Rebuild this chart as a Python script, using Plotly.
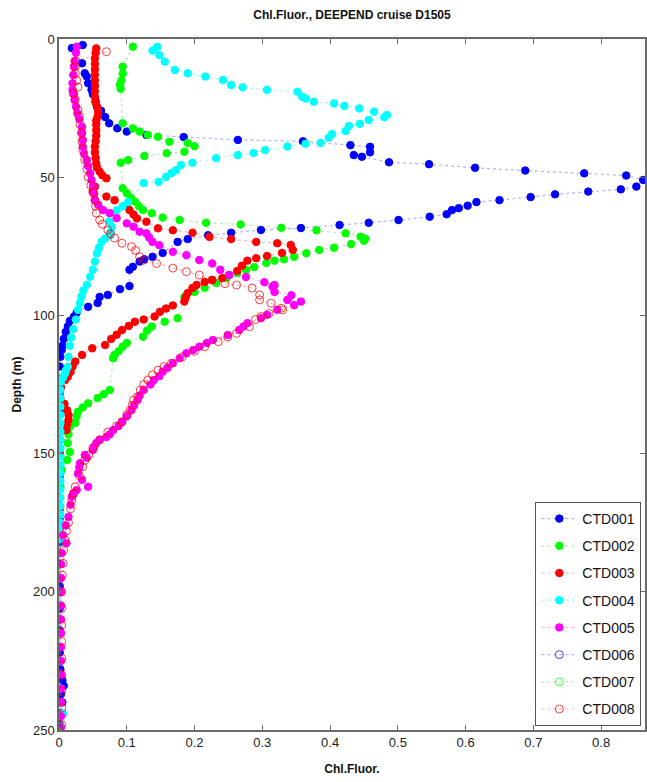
import plotly.graph_objects as go

# ---------------------------------------------------------------
# Chlorophyll fluorescence profiles, DEEPEND cruise D1505
# depth in metres, fluorescence in instrument units
# ---------------------------------------------------------------

ctd001_depth = [2.2, 3.3, 8.8, 12.4, 13.6, 16.0, 18.4, 20.0, 22.5, 24.5, 26.0, 28.2, 30.5, 32.3, 33.5,
                34.7, 35.5, 36.5, 37.0, 38.4, 39.0, 41.0, 42.0, 42.6, 44.6, 45.3, 46.6, 47.6, 48.6,
                49.4, 51.0, 53.4, 54.4, 55.2, 56.2, 57.2, 58.3, 59.0, 60.3, 61.2, 61.9, 63.4, 64.3,
                65.5, 66.5, 67.3, 68.4, 69.1, 70.1, 71.0, 72.4, 73.4, 77.4, 78.8, 79.7, 80.5, 82.4,
                83.5, 89.4, 90.5, 92.6, 93.3, 95.5, 96.9, 99.0, 100.5, 102.0, 104.0, 106.0, 108.5,
                111.0, 112.5, 115.0, 118.5, 123.0, 128.0, 135.0, 142.0, 150.0, 158.0, 166.0, 174.0,
                182.0, 190.0, 198.0, 206.0, 214.0, 222.0, 228.0, 232.0, 234.0, 237.0, 240.0, 244.0,
                248.0]
ctd001_chl = [0.035, 0.019, 0.034, 0.038, 0.041, 0.043, 0.048, 0.050, 0.054, 0.056, 0.062, 0.068, 0.074,
              0.086, 0.100, 0.129, 0.184, 0.264, 0.360, 0.430, 0.459, 0.459, 0.435, 0.447, 0.487,
              0.546, 0.614, 0.688, 0.775, 0.837, 0.862, 0.852, 0.829, 0.781, 0.732, 0.696, 0.650,
              0.616, 0.603, 0.590, 0.580, 0.572, 0.547, 0.501, 0.457, 0.414, 0.357, 0.298, 0.254,
              0.220, 0.190, 0.175, 0.153, 0.138, 0.126, 0.119, 0.109, 0.104, 0.104, 0.090, 0.072,
              0.060, 0.057, 0.043, 0.026, 0.022, 0.016, 0.013, 0.010, 0.007, 0.005, 0.004, 0.002,
              0.001, 0.000, 0.001, 0.001, 0.001, 0.001, 0.001, 0.001, 0.001, 0.001, 0.001, 0.001,
              0.001, 0.001, 0.001, 0.002, 0.005, 0.007, 0.003, 0.005, 0.002, 0.001]

ctd002_depth = [2.8, 10.0, 12.5, 15.0, 16.5, 18.0, 30.5, 32.3, 33.5, 34.7, 35.4, 37.2, 37.6, 38.8,
                40.8, 41.3, 42.3, 43.8, 44.8, 54.0, 55.8, 57.5, 58.8, 60.5, 61.9, 63.0, 64.6, 65.5,
                66.5, 67.1, 68.3, 69.2, 70.3, 71.5, 72.2, 73.0, 74.2, 75.5, 76.3, 77.5, 78.8, 79.7,
                80.2, 81.0, 82.5, 83.6, 84.7, 86.5, 88.3, 90.0, 91.5, 92.6, 93.3, 101.0, 102.3,
                104.0, 105.5, 107.7, 110.0, 111.3, 113.0, 114.3, 115.5, 127.0, 128.5, 129.9, 131.8,
                133.3, 134.9, 136.5, 138.9, 140.3, 143.0, 146.2, 149.4, 152.3, 156.0, 162.0, 170.0,
                180.0, 190.0, 200.0, 210.0, 220.0, 230.0, 240.0, 249.0]
ctd002_chl = [0.109, 0.094, 0.094, 0.092, 0.090, 0.091, 0.094, 0.109, 0.119, 0.131, 0.146, 0.163,
              0.190, 0.200, 0.185, 0.159, 0.126, 0.102, 0.091, 0.094, 0.100, 0.106, 0.112, 0.118,
              0.124, 0.137, 0.153, 0.178, 0.217, 0.268, 0.328, 0.380, 0.423, 0.445, 0.452, 0.450,
              0.431, 0.406, 0.384, 0.365, 0.347, 0.332, 0.318, 0.306, 0.288, 0.276, 0.263, 0.247,
              0.232, 0.215, 0.200, 0.188, 0.185, 0.175, 0.156, 0.137, 0.130, 0.124, 0.100, 0.094,
              0.088, 0.082, 0.080, 0.075, 0.066, 0.057, 0.043, 0.035, 0.028, 0.026, 0.024, 0.016,
              0.014, 0.013, 0.016, 0.012, 0.004, 0.002, 0.001, 0.001, 0.001, 0.001, 0.001, 0.001,
              0.001, 0.001, 0.001]

ctd003_depth = [3.4, 5.0, 7.0, 9.0, 11.0, 13.0, 15.0, 17.0, 19.0, 21.0, 23.0, 25.0, 26.5, 28.0,
                29.5, 31.0, 33.0, 35.0, 37.0, 39.0, 41.0, 43.0, 45.0, 46.5, 48.0, 49.3, 50.4, 53.4,
                55.2, 57.0, 58.3, 60.0, 61.9, 63.5, 64.9, 66.1, 68.5, 69.2, 70.1, 71.6, 72.4, 73.4,
                73.9, 74.5, 76.3, 77.4, 78.5, 79.3, 80.2, 82.0, 83.9, 85.4, 86.5, 87.2, 87.9, 89.0,
                90.1, 91.9, 93.5, 95.0, 96.4, 97.5, 98.7, 100.4, 101.5, 102.3, 103.8, 105.3, 107.0,
                108.5, 110.7, 111.9, 114.3, 116.7, 118.5, 120.5, 122.2, 123.4, 126.0, 130.0, 132.0,
                134.3, 136.0, 137.8, 139.5, 141.5, 145.0, 150.0, 160.0, 170.0, 180.0, 190.0, 200.0,
                210.0, 220.0, 230.0, 240.0, 249.0]
ctd003_chl = [0.055, 0.054, 0.053, 0.053, 0.053, 0.053, 0.053, 0.053, 0.053, 0.053, 0.054, 0.057,
              0.058, 0.057, 0.055, 0.055, 0.055, 0.055, 0.054, 0.053, 0.053, 0.054, 0.055, 0.056,
              0.060, 0.064, 0.070, 0.053, 0.050, 0.070, 0.082, 0.100, 0.104, 0.110, 0.115, 0.129,
              0.146, 0.168, 0.197, 0.222, 0.254, 0.291, 0.322, 0.342, 0.345, 0.329, 0.307, 0.291,
              0.278, 0.270, 0.263, 0.251, 0.241, 0.226, 0.215, 0.203, 0.197, 0.190, 0.187, 0.185,
              0.168, 0.158, 0.149, 0.141, 0.125, 0.112, 0.103, 0.093, 0.085, 0.077, 0.068, 0.049,
              0.034, 0.024, 0.020, 0.017, 0.013, 0.009, 0.003, 0.002, 0.008, 0.012, 0.014, 0.014,
              0.012, 0.011, 0.002, 0.001, 0.001, 0.001, 0.001, 0.001, 0.001, 0.001, 0.001, 0.001,
              0.001, 0.001]

ctd004_depth = [2.8, 4.2, 5.8, 8.2, 11.2, 12.4, 13.6, 14.8, 16.6, 17.5, 18.4, 19.1, 20.9, 21.5,
                22.7, 23.3, 24.2, 25.1, 26.3, 27.5, 28.3, 29.3, 30.7, 31.5, 33.3, 34.4, 35.7, 37.6,
                37.9, 38.9, 40.2, 41.2, 42.0, 43.1, 44.8, 45.6, 47.4, 48.5, 49.9, 51.7, 52.1, 59.0,
                60.5, 62.0, 66.0, 68.0, 70.0, 71.0, 72.2, 73.3, 75.5, 77.5, 80.5, 83.5, 86.0, 89.0,
                91.0, 93.2, 95.5, 98.0, 101.5, 105.0, 108.0, 111.0, 115.0, 118.6, 120.0, 121.0,
                122.5, 124.0, 127.0, 130.0, 133.0, 136.0, 139.0, 142.0, 145.0, 148.0, 151.0, 154.0,
                157.0, 160.0, 163.0, 166.0, 169.0, 172.0, 175.0, 178.0, 181.0, 186.0, 195.0, 205.0,
                215.0, 225.0, 235.0, 244.0, 249.0]
ctd004_chl = [0.145, 0.138, 0.148, 0.156, 0.171, 0.190, 0.216, 0.242, 0.254, 0.271, 0.307, 0.352,
              0.359, 0.364, 0.376, 0.406, 0.421, 0.443, 0.465, 0.484, 0.480, 0.457, 0.444, 0.428,
              0.423, 0.403, 0.398, 0.386, 0.364, 0.337, 0.304, 0.287, 0.264, 0.232, 0.197, 0.180,
              0.173, 0.166, 0.158, 0.147, 0.125, 0.102, 0.094, 0.085, 0.074, 0.078, 0.076, 0.075,
              0.068, 0.063, 0.059, 0.056, 0.053, 0.050, 0.046, 0.041, 0.036, 0.033, 0.031, 0.028,
              0.025, 0.021, 0.018, 0.016, 0.014, 0.013, 0.010, 0.009, 0.006, 0.003, 0.002, 0.002,
              0.002, 0.002, 0.002, 0.002, 0.002, 0.002, 0.002, 0.002, 0.002, 0.002, 0.002, 0.002,
              0.002, 0.002, 0.002, 0.002, 0.002, 0.002, 0.002, 0.002, 0.002, 0.002, 0.002, 0.006,
              0.002]

ctd005_depth = [2.8, 5.0, 8.0, 10.0, 13.0, 16.0, 18.4, 20.0, 22.0, 24.5, 26.9, 29.0, 31.8, 34.0,
                36.5, 39.0, 41.5, 43.8, 46.0, 48.6, 51.0, 53.4, 56.0, 58.3, 60.0, 61.9, 63.0, 64.8,
                66.7, 67.9, 69.7, 70.3, 71.8, 73.4, 74.6, 77.0, 78.2, 80.0, 81.2, 83.5, 85.4, 86.1,
                88.0, 89.0, 89.6, 91.5, 92.7, 94.4, 95.0, 96.3, 98.0, 99.8, 101.0, 102.8, 104.0,
                105.3, 107.1, 108.9, 110.0, 111.3, 112.5, 113.7, 115.5, 117.3, 119.0, 120.4, 122.0,
                123.4, 125.0, 127.0, 129.0, 130.6, 132.5, 134.2, 136.5, 138.5, 140.0, 141.5, 143.0,
                144.0, 145.0, 146.2, 147.5, 148.7, 150.5, 151.5, 153.5, 155.0, 157.1, 159.5, 162.0,
                163.2, 164.4, 165.6, 168.5, 172.9, 176.0, 179.5, 182.4, 186.0, 190.0, 195.0, 200.0,
                205.0, 210.0, 215.0, 220.0, 225.0, 230.0, 235.0, 240.0, 245.0, 249.0]
ctd005_chl = [0.026, 0.025, 0.023, 0.022, 0.021, 0.020, 0.020, 0.022, 0.023, 0.025, 0.027, 0.030,
              0.034, 0.034, 0.035, 0.035, 0.037, 0.041, 0.043, 0.046, 0.048, 0.050, 0.052, 0.053,
              0.058, 0.065, 0.075, 0.085, 0.100, 0.110, 0.119, 0.129, 0.133, 0.138, 0.148, 0.168,
              0.188, 0.207, 0.226, 0.238, 0.251, 0.276, 0.303, 0.318, 0.315, 0.318, 0.343, 0.337,
              0.357, 0.347, 0.322, 0.307, 0.298, 0.278, 0.272, 0.266, 0.249, 0.227, 0.218, 0.207,
              0.198, 0.188, 0.178, 0.168, 0.160, 0.153, 0.148, 0.140, 0.135, 0.125, 0.119, 0.116,
              0.111, 0.107, 0.100, 0.093, 0.088, 0.080, 0.075, 0.070, 0.060, 0.055, 0.052, 0.050,
              0.038, 0.041, 0.031, 0.030, 0.028, 0.034, 0.043, 0.026, 0.021, 0.019, 0.017, 0.014,
              0.010, 0.006, 0.011, 0.004, 0.003, 0.003, 0.003, 0.003, 0.003, 0.003, 0.003, 0.003,
              0.003, 0.003, 0.003, 0.003, 0.003]

# casts 006 and 007 only register at the bottom of the profile
ctd006_depth = [249.5]
ctd006_chl = [0.000]

ctd007_depth = [248.5]
ctd007_chl = [0.001]

ctd008_depth = [4.6, 8.0, 10.0, 12.5, 15.0, 17.4, 19.7, 22.0, 25.7, 28.0, 31.0, 34.0, 37.0, 40.0,
                43.8, 47.0, 50.0, 53.0, 55.5, 58.3, 60.5, 63.0, 65.5, 67.0, 69.1, 70.5, 72.0, 73.9,
                75.1, 76.5, 78.8, 80.0, 81.2, 82.9, 84.2, 85.4, 87.2, 88.5, 89.0, 90.1, 92.6, 94.4,
                95.6, 97.4, 98.0, 99.3, 100.4, 101.5, 104.1, 106.5, 107.8, 109.5, 111.3, 113.0,
                115.0, 117.3, 118.5, 119.8, 121.5, 123.4, 125.0, 127.0, 129.4, 130.6, 132.5, 134.3,
                136.0, 138.5, 140.0, 142.2, 145.0, 148.0, 150.5, 152.5, 154.8, 158.0, 162.0, 164.4,
                166.8, 170.0, 175.0, 178.0, 181.3, 185.0, 189.7, 194.0, 200.0, 206.0, 212.0, 218.0,
                224.0, 230.0, 236.0, 242.0, 248.0]
ctd008_chl = [0.070, 0.025, 0.024, 0.024, 0.026, 0.028, 0.021, 0.024, 0.028, 0.030, 0.031, 0.033,
              0.034, 0.035, 0.038, 0.041, 0.043, 0.047, 0.050, 0.053, 0.054, 0.055, 0.060, 0.064,
              0.072, 0.076, 0.082, 0.093, 0.107, 0.113, 0.119, 0.125, 0.144, 0.168, 0.188, 0.207,
              0.226, 0.245, 0.262, 0.285, 0.296, 0.296, 0.313, 0.328, 0.330, 0.310, 0.298, 0.290,
              0.281, 0.262, 0.249, 0.235, 0.215, 0.200, 0.182, 0.166, 0.155, 0.146, 0.138, 0.131,
              0.125, 0.120, 0.116, 0.110, 0.108, 0.105, 0.100, 0.093, 0.085, 0.072, 0.060, 0.050,
              0.044, 0.038, 0.035, 0.030, 0.024, 0.022, 0.019, 0.017, 0.014, 0.011, 0.009, 0.007,
              0.006, 0.005, 0.004, 0.004, 0.004, 0.004, 0.004, 0.004, 0.004, 0.004, 0.004]

cast_names = ["CTD001", "CTD002", "CTD003", "CTD004", "CTD005", "CTD006", "CTD007", "CTD008"]
cast_depths = [ctd001_depth, ctd002_depth, ctd003_depth, ctd004_depth, ctd005_depth,
               ctd006_depth, ctd007_depth, ctd008_depth]
cast_values = [ctd001_chl, ctd002_chl, ctd003_chl, ctd004_chl, ctd005_chl,
               ctd006_chl, ctd007_chl, ctd008_chl]

# MATLAB-style colour order; later casts drawn as open circles
cast_colors = ["#0000ff", "#00ff00", "#ff0000", "#00ffff", "#ff00ff", "#0000ff", "#00ff00", "#ff0000"]
cast_line_colors = ["rgba(0,0,255,0.30)", "rgba(0,200,0,0.30)", "rgba(255,0,0,0.30)",
                    "rgba(0,230,230,0.35)", "rgba(255,0,255,0.30)", "rgba(0,0,255,0.30)",
                    "rgba(0,200,0,0.30)", "rgba(255,0,0,0.30)"]
cast_open = [False, False, False, False, False, True, True, True]

FONT = "Liberation Sans, Arial, sans-serif"

fig = go.Figure()
for name, dep, val, col, lcol, is_open in zip(cast_names, cast_depths, cast_values,
                                               cast_colors, cast_line_colors, cast_open):
    fig.add_trace(go.Scatter(
        x=val, y=dep, name=name, mode="lines+markers", legendgroup=name,
        line=dict(color=lcol, width=1.2, dash="dot"),
        marker=dict(
            symbol="circle-open" if is_open else "circle",
            size=8 if is_open else 7.5,
            color=col,
            line=dict(color=col, width=1),
            opacity=0.75 if is_open else 1.0,
        ),
    ))

axis_common = dict(
    showline=True, mirror="ticks", linecolor="#6a6a6a", linewidth=1.5,
    ticks="inside", ticklen=5, tickcolor="#6a6a6a", tickwidth=1,
    showgrid=False, zeroline=False,
    tickfont=dict(family=FONT, size=13, color="#222222"),
)

fig.update_layout(
    width=647, height=782,
    margin=dict(l=59, r=0, t=39, b=52),
    paper_bgcolor="white", plot_bgcolor="white",
    title=dict(text="<b>Chl.Fluor., DEEPEND cruise D1505</b>",
               x=0.5, xref="paper", y=1 - 15 / 782, yref="container",
               xanchor="center", yanchor="middle",
               font=dict(family=FONT, size=12, color="#111111")),
    xaxis=dict(range=[0, 0.8647], tickvals=[0, 0.1, 0.2, 0.3, 0.4, 0.5, 0.6, 0.7, 0.8],
               ticktext=["0", "0.1", "0.2", "0.3", "0.4", "0.5", "0.6", "0.7", "0.8"],
               title=dict(text="<b>Chl.Fluor.</b>", standoff=15,
                          font=dict(family=FONT, size=12, color="#111111")),
               **axis_common),
    yaxis=dict(range=[250, 0], tickvals=[0, 50, 100, 150, 200, 250],
               title=dict(text="<b>Depth (m)</b>", standoff=9,
                          font=dict(family=FONT, size=12, color="#111111")),
               **axis_common),
    legend=dict(x=(537 - 59) / 588, y=(730 - 502) / 691, xanchor="left", yanchor="top",
                bgcolor="white", bordercolor="#555555", borderwidth=1,
                tracegroupgap=6, itemwidth=36,
                font=dict(family=FONT, size=14, color="#111111")),
    showlegend=True,
)

fig.write_html("out.html")
